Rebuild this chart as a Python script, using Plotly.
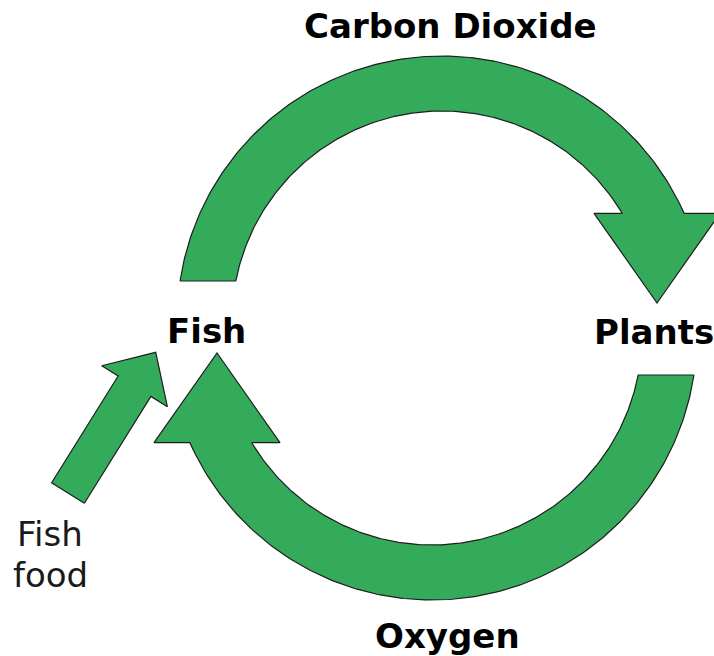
import numpy as np
import plotly.graph_objects as go

W, H = 714, 656
GREEN = "#33AB5A"
EDGE = "#1E1E1E"

# ---- labels ----
labels = ["Carbon Dioxide", "Fish", "Plants", "Oxygen"]
label_x = [450, 206, 654, 447]
label_y = [26, 331, 332, 636]
food_lines = ["Fish", "food"]
food_x = [50, 50]
food_y = [534, 575]

# ---- circular arrow geometry (pixel units) ----
arc_cx = [442, 432]          # centres of the two curved arrows
arc_cy = [321, 335]
arc_rot = [0, 180]           # second arrow is the first one turned half round
r_outer = 265
r_inner = 210
tail_dy = -40                # flat tail cut, relative to centre
head_base_dy = -107.7        # flat base of arrow head
head_tip = (215, -18)        # tip relative to centre
head_half = 63               # half width of head base

# ---- straight "fish food" arrow ----
food_tail = (68, 493)
food_tip = (155.7, 352.3)
food_shaft_half = 19.3
food_head_half = 38.7
food_head_len = 40


def curved_arrow(cx, cy, rot):
    tLo = np.pi - np.arcsin(-tail_dy / r_outer)
    tRo = np.arcsin(-head_base_dy / r_outer)
    tLi = np.pi - np.arcsin(-tail_dy / r_inner)
    tRi = np.arcsin(-head_base_dy / r_inner)
    to = np.linspace(tLo, tRo, 200)
    ti = np.linspace(tRi, tLi, 200)
    xs = list(r_outer * np.cos(to))
    ys = list(-r_outer * np.sin(to))
    hx, hy = head_tip
    xs += [hx + head_half, hx, hx - head_half]
    ys += [head_base_dy, hy, head_base_dy]
    xs += list(r_inner * np.cos(ti))
    ys += list(-r_inner * np.sin(ti))
    xs.append(xs[0]); ys.append(ys[0])
    xs = np.array(xs); ys = np.array(ys)
    if rot == 180:
        xs, ys = -xs, -ys
    return xs + cx, ys + cy


def straight_arrow(tail, tip, sh, hh, hl):
    t = np.array(tail, float); p = np.array(tip, float)
    d = p - t
    L = np.hypot(*d)
    u = d / L
    n = np.array([u[1], -u[0]])
    b = p - u * hl
    pts = [t - n * sh, b - n * sh, b - n * hh, p, b + n * hh, b + n * sh, t + n * sh, t - n * sh]
    pts = np.array(pts)
    return pts[:, 0], pts[:, 1]


fig = go.Figure()
for cx, cy, rot in zip(arc_cx, arc_cy, arc_rot):
    x, y = curved_arrow(cx, cy, rot)
    fig.add_trace(go.Scatter(x=x, y=y, mode="lines", fill="toself", fillcolor=GREEN,
                             line=dict(color=EDGE, width=1.2), hoverinfo="skip", showlegend=False))

x, y = straight_arrow(food_tail, food_tip, food_shaft_half, food_head_half, food_head_len)
fig.add_trace(go.Scatter(x=x, y=y, mode="lines", fill="toself", fillcolor=GREEN,
                         line=dict(color=EDGE, width=1.2), hoverinfo="skip", showlegend=False))

for t, lx, ly in zip(labels, label_x, label_y):
    fig.add_annotation(x=lx, y=ly, text=t, showarrow=False, xanchor="center", yanchor="middle",
                       font=dict(family="DejaVu Sans", size=34, color="#000000", weight="bold"))
for t, lx, ly in zip(food_lines, food_x, food_y):
    fig.add_annotation(x=lx, y=ly, text=t, showarrow=False, xanchor="center", yanchor="middle",
                       font=dict(family="DejaVu Sans", size=34, color="#1a1a1a"))

fig.update_layout(width=W, height=H, margin=dict(l=0, r=0, t=0, b=0),
                  paper_bgcolor="white", plot_bgcolor="white",
                  xaxis=dict(range=[0, W], visible=False, fixedrange=True),
                  yaxis=dict(range=[H, 0], visible=False, fixedrange=True))
fig.write_html("out.html", config={"displayModeBar": False},
               post_script="document.body.style.margin='0px';document.body.style.overflow='hidden';")
